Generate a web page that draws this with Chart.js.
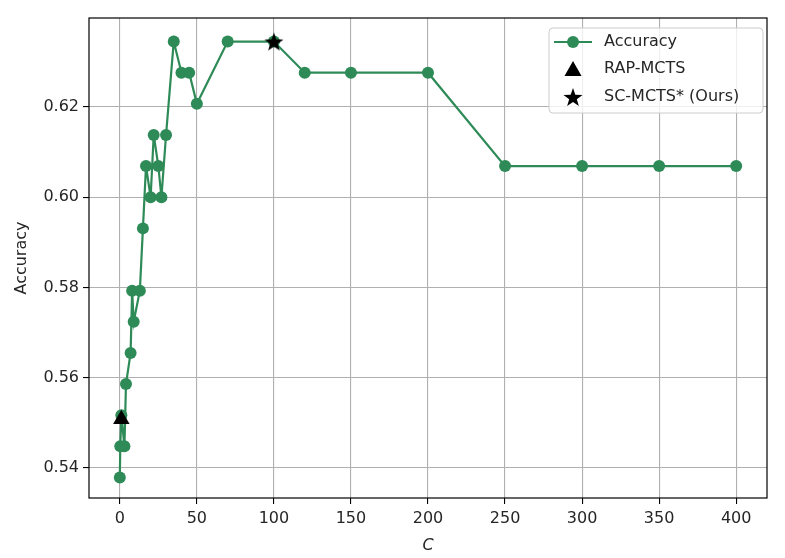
<!DOCTYPE html>
<html>
<head>
<meta charset="utf-8">
<script src="https://cdn.jsdelivr.net/npm/chart.js@4.4.1/dist/chart.umd.min.js"></script>
<style>
  html, body { margin:0; padding:0; background:#fff; }
  #wrap { width:785px; height:558px; position:relative; }
</style>
</head>
<body>
<div id="wrap"><canvas id="chart"></canvas></div>
<script>
Chart.defaults.font.family = "'DejaVu Sans', sans-serif";
Chart.defaults.color = '#262626';

// datos (accuracy vs C)
const C_VALUES   = [0, 0.3, 1, 3, 4, 7, 8, 9, 13, 15, 17, 20, 22, 25, 27, 30, 35, 40, 45, 50, 70, 100, 120, 150, 200, 250, 300, 350, 400];
const ACC_VALUES = [0.5379, 0.5448, 0.5517, 0.5448, 0.5586, 0.5655, 0.5793, 0.5724, 0.5793, 0.5931, 0.6069, 0.6000, 0.6138, 0.6069, 0.6000, 0.6138,
                    0.6345, 0.6276, 0.6276, 0.6207, 0.6345, 0.6345, 0.6276, 0.6276, 0.6276, 0.6069, 0.6069, 0.6069, 0.6069];
const RAP_C = [1];
const RAP_ACC = [0.5508];
const OURS_C = [100];
const OURS_ACC = [0.6345];

const X_TICKS = [0, 50, 100, 150, 200, 250, 300, 350, 400];
const Y_TICKS = [0.54, 0.56, 0.58, 0.60, 0.62];

const VERDE = '#2E8B57';
const FONT_SZ = 16;

// estrella rellena para el marcador de SC-MCTS*
function starImg(r) {
  const c = document.createElement('canvas');
  const s = Math.ceil(r * 2 + 2);
  c.width = s; c.height = s;
  const g = c.getContext('2d');
  g.beginPath();
  for (let i = 0; i < 10; i++) {
    const rr = i % 2 === 0 ? r : r * 0.4;
    const a = -Math.PI / 2 + i * Math.PI / 5;
    const px = s / 2 + rr * Math.cos(a), py = s / 2 + rr * Math.sin(a) + r * 0.1;
    if (i === 0) g.moveTo(px, py); else g.lineTo(px, py);
  }
  g.closePath();
  g.fillStyle = '#000';
  g.fill();
  return c;
}
const STAR = starImg(10);

const accPts = C_VALUES.map((c, i) => ({ x: c, y: ACC_VALUES[i] }));
const rapPts = RAP_C.map((c, i) => ({ x: c, y: RAP_ACC[i] }));
const oursPts = OURS_C.map((c, i) => ({ x: c, y: OURS_ACC[i] }));

// marco completo del area de dibujo
const framePlugin = {
  id: 'frame',
  afterDatasetsDraw(chart) {
    const { ctx, chartArea: a } = chart;
    ctx.save();
    ctx.strokeStyle = '#000';
    ctx.lineWidth = 1.2;
    ctx.strokeRect(a.left, a.top, a.right - a.left, a.bottom - a.top);
    ctx.restore();
  }
};

// leyenda estilo matplotlib dentro del area
const legendPlugin = {
  id: 'mplLegend',
  afterDraw(chart) {
    const { ctx } = chart;
    const ds = chart.data.datasets;
    const bx = 549, by = 28, bw = 214, bh = 85;
    ctx.save();
    ctx.beginPath();
    ctx.roundRect(bx, by, bw, bh, 4);
    ctx.fillStyle = 'rgba(255,255,255,0.8)';
    ctx.fill();
    ctx.strokeStyle = '#cccccc';
    ctx.lineWidth = 1;
    ctx.stroke();
    const rows = [42, 69, 97];
    const mx = 573;
    ctx.font = FONT_SZ + "px 'DejaVu Sans', sans-serif";
    ctx.textBaseline = 'middle';
    ds.forEach((d, i) => {
      const y = rows[i];
      if (i === 0) {
        ctx.strokeStyle = VERDE; ctx.lineWidth = 2.2;
        ctx.beginPath(); ctx.moveTo(554, y); ctx.lineTo(592, y); ctx.stroke();
        ctx.fillStyle = VERDE;
        ctx.beginPath(); ctx.arc(mx, y, 6, 0, Math.PI * 2); ctx.fill();
      } else if (i === 1) {
        ctx.fillStyle = '#000';
        ctx.beginPath(); ctx.moveTo(mx, y - 8); ctx.lineTo(mx + 8.5, y + 7); ctx.lineTo(mx - 8.5, y + 7); ctx.closePath(); ctx.fill();
      } else {
        ctx.drawImage(STAR, mx - STAR.width / 2, y - STAR.height / 2);
      }
      ctx.fillStyle = '#262626';
      ctx.fillText(d.label, 604, y);
    });
    ctx.restore();
  }
};

new Chart(document.getElementById('chart'), {
  type: 'line',
  data: {
    datasets: [
      { label: 'Accuracy', data: accPts, borderColor: VERDE, backgroundColor: VERDE, borderWidth: 2.2,
        pointRadius: 6, pointHoverRadius: 6, pointBorderWidth: 0, tension: 0, order: 3 },
      { label: 'RAP-MCTS', data: rapPts, showLine: false, pointStyle: 'triangle', pointRadius: 9.5,
        backgroundColor: '#000', borderColor: '#000', pointBorderWidth: 0, order: 2 },
      { label: 'SC-MCTS* (Ours)', data: oursPts, showLine: false, pointStyle: STAR, pointRadius: 10,
        backgroundColor: '#000', borderColor: '#000', order: 1 }
    ]
  },
  options: {
    responsive: true,
    maintainAspectRatio: false,
    animation: false,
    layout: { padding: { top: 18, right: 18, left: 0, bottom: 0 } },
    plugins: { legend: { display: false }, tooltip: { enabled: false } },
    scales: {
      x: {
        type: 'linear', min: -20, max: 420,
        afterBuildTicks: s => { s.ticks = X_TICKS.map(v => ({ value: v })); },
        afterFit: s => { s.height = 60; },
        grid: { color: '#b0b0b0', lineWidth: 1.1, drawTicks: true, tickLength: 6, tickColor: '#000', tickWidth: 1.1 },
        border: { display: false },
        ticks: { font: { size: FONT_SZ }, color: '#262626', padding: 5, maxRotation: 0, callback: v => String(v) },
        title: { display: true, text: 'C', font: { size: FONT_SZ, style: 'italic' }, color: '#262626', padding: { top: 0, bottom: 3 } }
      },
      y: {
        type: 'linear', min: 0.53335, max: 0.63972,
        afterBuildTicks: s => { s.ticks = Y_TICKS.map(v => ({ value: v })); },
        afterFit: s => { s.width = 89; },
        grid: { color: '#b0b0b0', lineWidth: 1.1, drawTicks: true, tickLength: 6, tickColor: '#000', tickWidth: 1.1 },
        border: { display: false },
        ticks: { font: { size: FONT_SZ }, color: '#262626', padding: 4, callback: v => v.toFixed(2) },
        title: { display: true, text: 'Accuracy', font: { size: FONT_SZ }, color: '#262626', padding: { top: 12, bottom: 0 } }
      }
    }
  },
  plugins: [framePlugin, legendPlugin]
});
</script>
</body>
</html>
